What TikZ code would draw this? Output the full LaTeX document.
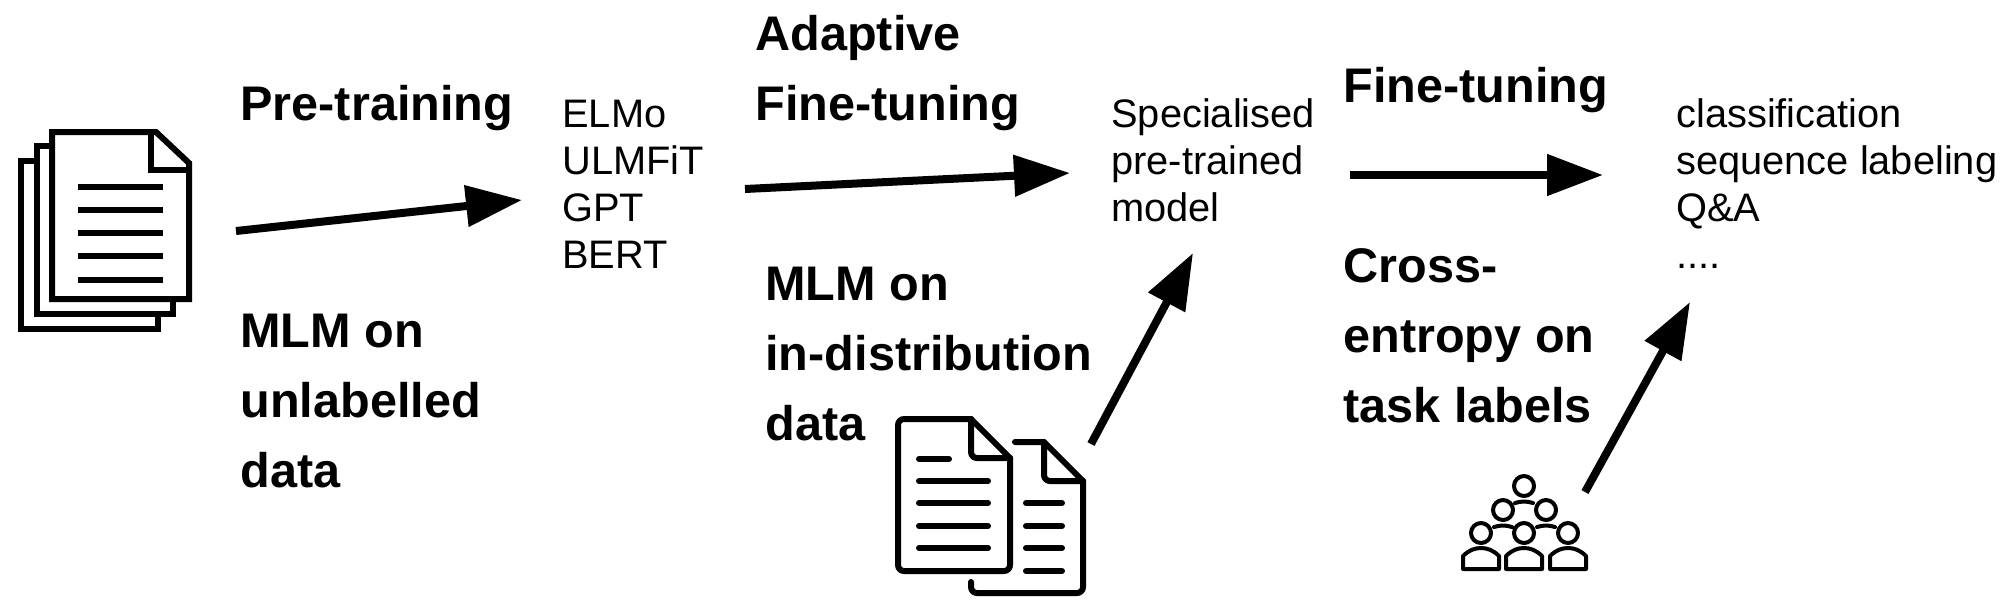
\documentclass[tikz,border=0pt]{standalone}
\usepackage{fontspec}
\setmainfont{Liberation Sans}
\usetikzlibrary{arrows.meta}
\tikzset{
  bigtext/.style={anchor=base west,inner sep=0pt,align=left,font=\fontsize{24.3}{35}\selectfont\bfseries},
  smalltext/.style={anchor=base west,inner sep=0pt,align=left,font=\fontsize{19.9}{23.4}\selectfont},
  flow/.style={line width=4pt,-{Triangle[length=28pt,width=20pt]}},
  sheet/.style={line width=3pt,miter limit=10},
  roundsheet/.style={line width=3pt,line cap=round,line join=round,rounded corners=3pt},
  textline/.style={line width=3pt,line cap=round},
  person/.style={line width=2pt,line cap=round,line join=round}
}
\begin{document}
\begin{tikzpicture}[x=0.5pt,y=-0.5pt]
\useasboundingbox (0,0) rectangle (2000,607);

% text (a multi-line node's base is the baseline of its last line)
\node[bigtext] (pre) at (240,120) {Pre-training};
\node[bigtext] (mlm1) at (240,487) {MLM on\\unlabelled\\data};
\node[smalltext] (models) at (562,268) {ELMo\\ULMFiT\\GPT\\BERT};
\node[bigtext] (adapt) at (755,120) {Adaptive\\Fine-tuning};
\node[bigtext] (mlm2) at (765,440) {MLM on\\in-distribution\\data};
\node[smalltext] (spec) at (1111,221) {Specialised\\pre-trained\\model};
\node[bigtext] (fine) at (1343,102) {Fine-tuning};
\node[bigtext] (cross) at (1343,422) {Cross-\\entropy on\\task labels};
\node[smalltext] (tasks) at (1676,268) {classification\\sequence labeling\\Q\&A\\....};

% connector ends
\coordinate (a1s) at (236,231); \coordinate (a1e) at (522,200);
\coordinate (a2s) at (745,189); \coordinate (a2e) at (1070,173);
\coordinate (a3s) at (1350,175); \coordinate (a3e) at (1603,175);
\coordinate (a4s) at (1091,444); \coordinate (a4e) at (1193,253);
\coordinate (a5s) at (1585,492); \coordinate (a5e) at (1690,302);
\draw[flow] (a1s) -- (a1e);
\draw[flow] (a2s) -- (a2e);
\draw[flow] (a3s) -- (a3e);
\draw[flow] (a4s) -- (a4e);
\draw[flow] (a5s) -- (a5e);

% stacked documents
\draw[sheet] (37,161) -- (21,161) -- (21,329) -- (158,329) -- (158,314);
\draw[sheet] (52,146) -- (37,146) -- (37,314) -- (173,314) -- (173,299);
\draw[sheet] (52,132) -- (156,132) -- (189,163) -- (189,299) -- (52,299) -- cycle;
\draw[sheet] (151,132) -- (151,170) -- (189,170);
\foreach \y in {187,210,233,256,280} \draw[sheet] (78,\y) -- (163,\y);

% two documents
\draw[roundsheet] (971,419) -- (898,419) -- (898,571) -- (1010,571) -- (1010,458);
\draw[line width=3pt,line cap=round,line join=round] (971,419) -- (1010,458);
\draw[roundsheet] (971,419) -- (971,458) -- (1010,458);
\draw[textline] (919,459) -- (949,459);
\foreach \y in {481,503,526,548} \draw[textline] (919,\y) -- (988,\y);
\draw[line width=3pt,line cap=round,line join=round] (1015,442) -- (1044,442) -- (1083,481);
\draw[roundsheet] (1083,481) -- (1083,593) -- (971,593) -- (971,582);
\draw[roundsheet] (1044,442) -- (1044,481) -- (1083,481);
\foreach \y in {503,526,548,571} \draw[textline] (1026,\y) -- (1062,\y);

% audience
\foreach \x/\y in {1524/486,1503/510,1546/510,1481/533,1524/533,1568/533}
  \draw[person] (\x,\y) circle (10);
\foreach \x/\y in {1524/502,1503/526,1546/526}
  \draw[person] (\x-9,\y+1) .. controls (\x-3,\y-1) and (\x+3,\y-1) .. (\x+9,\y+1);
\foreach \x in {1481,1524,1568}
  \draw[person] (\x-18,569) -- (\x-18,556) .. controls (\x-12,550) and (\x-6,548) .. (\x,548)
    .. controls (\x+6,548) and (\x+12,550) .. (\x+18,556) -- (\x+18,569) -- cycle;
\end{tikzpicture}
\end{document}
